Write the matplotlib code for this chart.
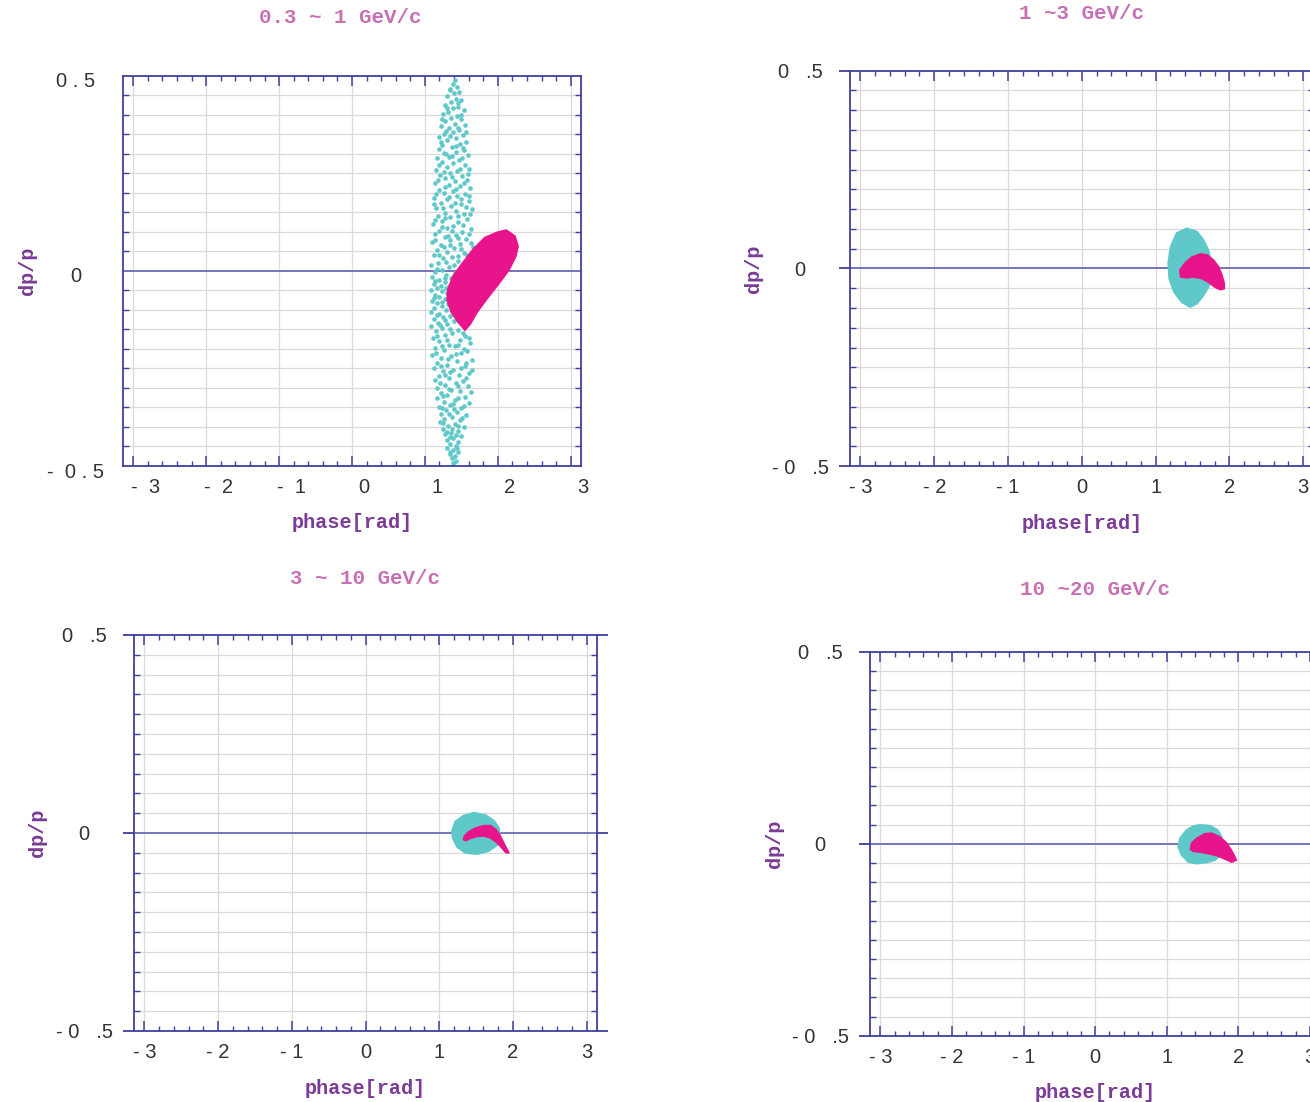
import matplotlib.pyplot as plt
import numpy as np
from matplotlib.transforms import ScaledTranslation

# ---- data (phase [rad], dp/p) ----

# 0.3 ~ 1 GeV/c : cyan cloud, individual particles
cyan1 = np.array([
    (1.41, 0.489), (1.38, 0.478), (1.44, 0.472), (1.35, 0.463), (1.47, 0.458), (1.40, 0.455), (1.31, 0.447), (1.43, 0.441),
    (1.50, 0.437), (1.36, 0.432), (1.28, 0.425), (1.46, 0.421), (1.39, 0.416), (1.53, 0.411), (1.32, 0.407), (1.25, 0.401),
    (1.44, 0.398), (1.36, 0.392), (1.50, 0.388), (1.28, 0.383), (1.41, 0.377), (1.55, 0.374), (1.22, 0.371), (1.33, 0.366),
    (1.47, 0.361), (1.38, 0.355), (1.26, 0.351), (1.52, 0.348), (1.20, 0.343), (1.43, 0.340), (1.31, 0.334), (1.57, 0.331),
    (1.48, 0.325), (1.24, 0.322), (1.37, 0.318), (1.19, 0.312), (1.54, 0.309), (1.42, 0.305), (1.29, 0.300), (1.59, 0.296),
    (1.33, 0.291), (1.17, 0.288), (1.47, 0.284), (1.24, 0.279), (1.39, 0.276), (1.55, 0.271), (1.30, 0.266), (1.61, 0.262),
    (1.15, 0.259), (1.44, 0.255), (1.35, 0.250), (1.21, 0.246), (1.51, 0.242), (1.27, 0.237), (1.58, 0.233), (1.41, 0.230),
    (1.14, 0.225), (1.33, 0.221), (1.48, 0.217), (1.62, 0.213), (1.19, 0.208), (1.38, 0.204), (1.26, 0.200), (1.55, 0.196),
    (1.44, 0.191), (1.12, 0.187), (1.31, 0.183), (1.60, 0.179), (1.22, 0.174), (1.49, 0.170), (1.36, 0.166), (1.15, 0.161),
    (1.64, 0.158), (1.42, 0.153), (1.28, 0.149), (1.53, 0.146), (1.18, 0.141), (1.35, 0.137), (1.58, 0.133), (1.24, 0.128),
    (1.46, 0.124), (1.11, 0.120), (1.39, 0.116), (1.31, 0.111), (1.63, 0.108), (1.20, 0.103), (1.51, 0.099), (1.14, 0.095),
    (1.43, 0.091), (1.27, 0.087), (1.57, 0.082), (1.35, 0.078), (1.10, 0.074), (1.48, 0.070), (1.22, 0.066), (1.66, 0.062),
    (1.40, 0.058), (1.16, 0.053), (1.30, 0.049), (1.54, 0.045), (1.12, 0.040), (1.37, 0.036), (1.25, 0.032), (1.61, 0.028),
    (1.45, 0.024), (1.18, 0.019), (1.09, 0.015), (1.33, 0.011), (1.52, 0.007), (1.23, 0.003), (1.14, -0.002), (1.41, -0.006),
    (1.29, -0.010), (1.10, -0.015), (1.36, -0.019), (1.20, -0.024), (1.27, -0.029), (1.12, -0.034), (1.33, -0.038), (1.17, -0.043),
    (1.09, -0.048), (1.24, -0.052), (1.30, -0.057), (1.14, -0.062), (1.20, -0.067), (1.27, -0.072), (1.10, -0.077), (1.17, -0.082),
    (1.32, -0.086), (1.23, -0.091), (1.13, -0.096), (1.29, -0.101), (1.09, -0.106), (1.19, -0.110), (1.35, -0.115), (1.25, -0.119),
    (1.12, -0.124), (1.40, -0.128), (1.18, -0.133), (1.31, -0.137), (1.09, -0.142), (1.23, -0.147), (1.45, -0.151), (1.15, -0.155),
    (1.37, -0.160), (1.28, -0.164), (1.55, -0.168), (1.11, -0.172), (1.48, -0.176), (1.20, -0.181), (1.62, -0.185), (1.33, -0.189),
    (1.41, -0.193), (1.14, -0.198), (1.26, -0.202), (1.58, -0.206), (1.50, -0.211), (1.10, -0.215), (1.36, -0.219), (1.22, -0.223),
    (1.65, -0.228), (1.44, -0.232), (1.17, -0.236), (1.30, -0.240), (1.55, -0.244), (1.12, -0.249), (1.39, -0.253), (1.25, -0.257),
    (1.61, -0.262), (1.47, -0.266), (1.19, -0.270), (1.33, -0.274), (1.14, -0.279), (1.52, -0.283), (1.42, -0.287), (1.27, -0.292),
    (1.59, -0.296), (1.17, -0.300), (1.36, -0.305), (1.48, -0.309), (1.22, -0.313), (1.31, -0.318), (1.55, -0.322), (1.16, -0.326),
    (1.41, -0.331), (1.26, -0.335), (1.60, -0.339), (1.35, -0.344), (1.19, -0.348), (1.50, -0.352), (1.29, -0.357), (1.44, -0.361),
    (1.22, -0.366), (1.56, -0.370), (1.37, -0.374), (1.26, -0.379), (1.48, -0.383), (1.21, -0.388), (1.41, -0.392), (1.32, -0.397),
    (1.53, -0.401), (1.25, -0.406), (1.45, -0.410), (1.36, -0.415), (1.28, -0.419), (1.50, -0.424), (1.39, -0.429), (1.31, -0.434),
    (1.46, -0.439), (1.35, -0.444), (1.42, -0.449), (1.30, -0.454), (1.39, -0.459), (1.45, -0.464), (1.34, -0.469), (1.41, -0.474),
    (1.37, -0.480), (1.43, -0.486), (1.39, -0.492),
    (1.35, 0.465), (1.46, 0.430), (1.30, 0.418), (1.50, 0.400), (1.23, 0.390), (1.45, 0.365), (1.29, 0.358), (1.56, 0.355),
    (1.35, 0.345), (1.22, 0.330), (1.43, 0.320), (1.52, 0.315), (1.26, 0.303), (1.37, 0.293), (1.51, 0.288), (1.20, 0.272),
    (1.48, 0.260), (1.26, 0.253), (1.59, 0.248), (1.37, 0.240), (1.18, 0.232), (1.53, 0.226), (1.28, 0.215), (1.43, 0.210),
    (1.15, 0.198), (1.60, 0.192), (1.33, 0.190), (1.50, 0.185), (1.25, 0.160), (1.56, 0.163), (1.41, 0.175), (1.13, 0.171),
    (1.46, 0.140), (1.62, 0.145), (1.27, 0.135), (1.14, 0.130), (1.52, 0.118), (1.37, 0.101), (1.23, 0.112), (1.60, 0.094),
    (1.32, 0.090), (1.45, 0.083), (1.14, 0.080), (1.63, 0.072), (1.26, 0.060), (1.50, 0.056), (1.35, 0.065), (1.20, 0.040),
    (1.45, 0.038), (1.58, 0.040), (1.29, 0.022), (1.40, 0.016), (1.16, 0.005), (1.27, -0.018), (1.14, -0.026), (1.22, -0.040),
    (1.29, -0.045), (1.12, -0.070), (1.23, -0.080), (1.16, -0.112), (1.28, -0.125), (1.21, -0.140), (1.34, -0.148), (1.52, -0.158),
    (1.17, -0.166), (1.60, -0.172), (1.30, -0.178), (1.45, -0.190), (1.24, -0.192), (1.53, -0.200), (1.15, -0.210), (1.43, -0.213),
    (1.32, -0.225), (1.56, -0.235), (1.22, -0.245), (1.49, -0.250), (1.35, -0.260), (1.64, -0.255), (1.27, -0.268), (1.56, -0.275),
    (1.21, -0.288), (1.46, -0.296), (1.33, -0.302), (1.63, -0.310), (1.25, -0.320), (1.46, -0.325), (1.38, -0.340), (1.53, -0.345),
    (1.23, -0.352), (1.40, -0.355), (1.33, -0.368), (1.51, -0.378), (1.25, -0.391), (1.46, -0.398), (1.37, -0.405), (1.30, -0.412),
    (1.42, -0.421), (1.34, -0.426), (1.44, -0.455), (1.35, -0.463),
])

# dense clouds: outline of the filled region (phase, dp/p)
mag1_phase = [1.550, 1.459, 1.367, 1.312, 1.321, 1.390, 1.505, 1.665, 1.826, 1.986, 2.115, 2.229, 2.271, 2.239, 2.147, 2.009, 1.849, 1.711, 1.619]
mag1_dp = [-0.150, -0.130, -0.105, -0.075, -0.049, -0.015, 0.015, 0.054, 0.084, 0.097, 0.103, 0.088, 0.063, 0.037, 0.003, -0.032, -0.070, -0.105, -0.135]

cyan2_phase = [1.421, 1.557, 1.646, 1.714, 1.746, 1.760, 1.720, 1.646, 1.557, 1.466, 1.354, 1.249, 1.186, 1.172, 1.205, 1.286]
cyan2_dp = [0.101, 0.093, 0.072, 0.046, 0.021, -0.010, -0.045, -0.068, -0.089, -0.097, -0.085, -0.059, -0.025, 0.013, 0.055, 0.089]
mag2_phase = [1.340, 1.331, 1.398, 1.489, 1.602, 1.692, 1.782, 1.850, 1.896, 1.927, 1.927, 1.873, 1.805, 1.714, 1.625, 1.511, 1.421]
mag2_dp = [-0.021, -0.004, 0.013, 0.028, 0.036, 0.034, 0.021, 0.004, -0.017, -0.038, -0.051, -0.053, -0.047, -0.034, -0.025, -0.021, -0.023]

cyan3_phase = [1.470, 1.629, 1.742, 1.810, 1.819, 1.788, 1.674, 1.516, 1.357, 1.245, 1.185, 1.177, 1.221, 1.326]
cyan3_dp = [0.051, 0.045, 0.031, 0.012, -0.009, -0.030, -0.045, -0.053, -0.050, -0.035, -0.013, 0.006, 0.029, 0.043]
mag3_phase = [1.334, 1.344, 1.403, 1.493, 1.606, 1.697, 1.765, 1.819, 1.865, 1.910, 1.946, 1.905, 1.842, 1.774, 1.697, 1.606, 1.516, 1.425, 1.357]
mag3_dp = [-0.016, -0.008, 0.003, 0.012, 0.018, 0.018, 0.009, -0.005, -0.022, -0.039, -0.050, -0.049, -0.035, -0.022, -0.012, -0.007, -0.008, -0.013, -0.019]

cyan4_phase = [1.465, 1.605, 1.707, 1.768, 1.780, 1.740, 1.675, 1.559, 1.419, 1.302, 1.209, 1.162, 1.186, 1.279, 1.372]
cyan4_dp = [0.049, 0.047, 0.036, 0.018, -0.010, -0.030, -0.042, -0.048, -0.051, -0.047, -0.029, -0.008, 0.014, 0.036, 0.046]
mag4_phase = [1.335, 1.349, 1.419, 1.535, 1.628, 1.735, 1.824, 1.884, 1.930, 1.968, 1.908, 1.814, 1.698, 1.581, 1.465, 1.372]
mag4_dp = [-0.014, 0.001, 0.014, 0.026, 0.027, 0.018, 0.004, -0.012, -0.027, -0.042, -0.047, -0.039, -0.030, -0.025, -0.021, -0.019]

titles = ['0.3 ~ 1 GeV/c', '1 ~3 GeV/c', '3 ~ 10 GeV/c', '10 ~20 GeV/c']
xtick_labels_a = ['-  3', '-  2', '-  1', '0', '1', '2', '3']
xtick_labels_b = ['- 3', '- 2', '- 1', '0', '1', '2', '3']
ytick_labels_a = ['-  0 . 5', '0', '0 . 5']
ytick_labels_b = ['- 0   .5', '0', '0   .5']

CYAN = '#5fc8c8'
MAG = '#e8148c'
FRAME = '#40409c'
ZERO = '#6a6ab4'
GRID = '#dadada'
TITLE_C = '#c870b4'
LABEL_C = '#7a3c96'
TICK_FS = 14.5

W, H = 1310, 1102
fig = plt.figure(figsize=(W / 100, H / 100), dpi=100)


def px(v):
    return v / 100.0


def make_axes(box, xlabels, ylabels, outward, title, title_dy, title_dx=0, lab_dx=0, lab_dy=0):
    l, r, t, b = box
    ax = fig.add_axes([l / W, 1 - b / H, (r - l) / W, (b - t) / H])
    ax.set_xlim(-np.pi, np.pi)
    ax.set_ylim(-0.5, 0.5)
    ax.set_xticks(range(-3, 4))
    ax.set_xticklabels(xlabels)
    ax.set_xticks(np.arange(-3, 3.01, 0.2), minor=True)
    ax.set_yticks([-0.5, 0, 0.5])
    ax.set_yticklabels(ylabels)
    ax.set_yticks(np.arange(-0.5, 0.51, 0.05), minor=True)
    for s in ax.spines.values():
        s.set_color(FRAME)
        s.set_linewidth(1.3)
    ax.tick_params(axis='x', which='major', direction='in', length=7, width=1.1, color=FRAME,
                   top=True, pad=8.5, labelsize=TICK_FS, labelcolor='#333333')
    ax.tick_params(axis='x', which='minor', direction='in', length=3.5, width=1, color=FRAME, top=True)
    ax.tick_params(axis='y', which='minor', direction='in', length=4, width=1, color=FRAME, right=True)
    if outward:
        ax.tick_params(axis='y', which='major', direction='out', length=8, width=1.3, color=FRAME,
                       right=True, pad=28, labelsize=TICK_FS, labelcolor='#333333')
    else:
        ax.tick_params(axis='y', which='major', direction='in', length=0, pad=34,
                       labelsize=TICK_FS, labelcolor='#333333')
    for lab in ax.get_xticklabels() + ax.get_yticklabels():
        lab.set_fontfamily('Liberation Sans')
    for lab in ax.get_yticklabels():
        lab.set_ha('center')
        lab.set_transform(lab.get_transform() + ScaledTranslation(0, -px(lab_dy), fig.dpi_scale_trans))
    for lab in ax.get_xticklabels():
        lab.set_transform(lab.get_transform() + ScaledTranslation(px(lab_dx), 0, fig.dpi_scale_trans))
    ax.grid(axis='x', which='major', color=GRID, lw=0.9)
    ax.grid(axis='y', which='minor', color=GRID, lw=0.9)
    ax.axhline(0, color=ZERO, lw=1.3, zorder=1.5)
    ax.set_axisbelow(True)

    ax.annotate(title, xy=(0.5, 1), xycoords='axes fraction', xytext=(title_dx * 0.72, title_dy * 0.72),
                textcoords='offset points', ha='center', va='center', fontsize=15,
                fontweight='bold', family='Liberation Mono', color=TITLE_C)
    ax.annotate('phase[rad]', xy=(0.5, 0), xycoords='axes fraction', xytext=(0, -57 * 0.72),
                textcoords='offset points', ha='center', va='center', fontsize=14.5,
                fontweight='bold', family='Liberation Mono', color=LABEL_C)
    ax.annotate('dp/p', xy=(0, 0.5), xycoords='axes fraction', xytext=(-96 * 0.72, 0),
                textcoords='offset points', ha='center', va='center', fontsize=14.5, rotation=90,
                fontweight='bold', family='Liberation Mono', color=LABEL_C)
    return ax


ax1 = make_axes((123, 581, 75.7, 466), xtick_labels_a, ytick_labels_a, False, titles[0], 58,
                title_dx=-12, lab_dx=12, lab_dy=4)
ax1.scatter(cyan1[:, 0], cyan1[:, 1], s=11, color=CYAN, linewidths=0, zorder=2)
ax1.fill(mag1_phase, mag1_dp, color=MAG, lw=2, zorder=3)

ax2 = make_axes((850, 1313.7, 70.7, 466.2), xtick_labels_b, ytick_labels_b, True, titles[1], 57)
ax2.fill(cyan2_phase, cyan2_dp, color=CYAN, lw=1.5, zorder=2)
ax2.fill(mag2_phase, mag2_dp, color=MAG, lw=1.5, zorder=3)

ax3 = make_axes((134, 597, 635, 1031), xtick_labels_b, ytick_labels_b, True, titles[2], 56)
ax3.fill(cyan3_phase, cyan3_dp, color=CYAN, lw=1.5, zorder=2)
ax3.fill(mag3_phase, mag3_dp, color=MAG, lw=1.5, zorder=3)

ax4 = make_axes((870.2, 1320.1, 651.8, 1035.9), xtick_labels_b, ytick_labels_b, True, titles[3], 62)
ax4.fill(cyan4_phase, cyan4_dp, color=CYAN, lw=1.5, zorder=2)
ax4.fill(mag4_phase, mag4_dp, color=MAG, lw=1.5, zorder=3)

fig.savefig('out.png', dpi=100)
